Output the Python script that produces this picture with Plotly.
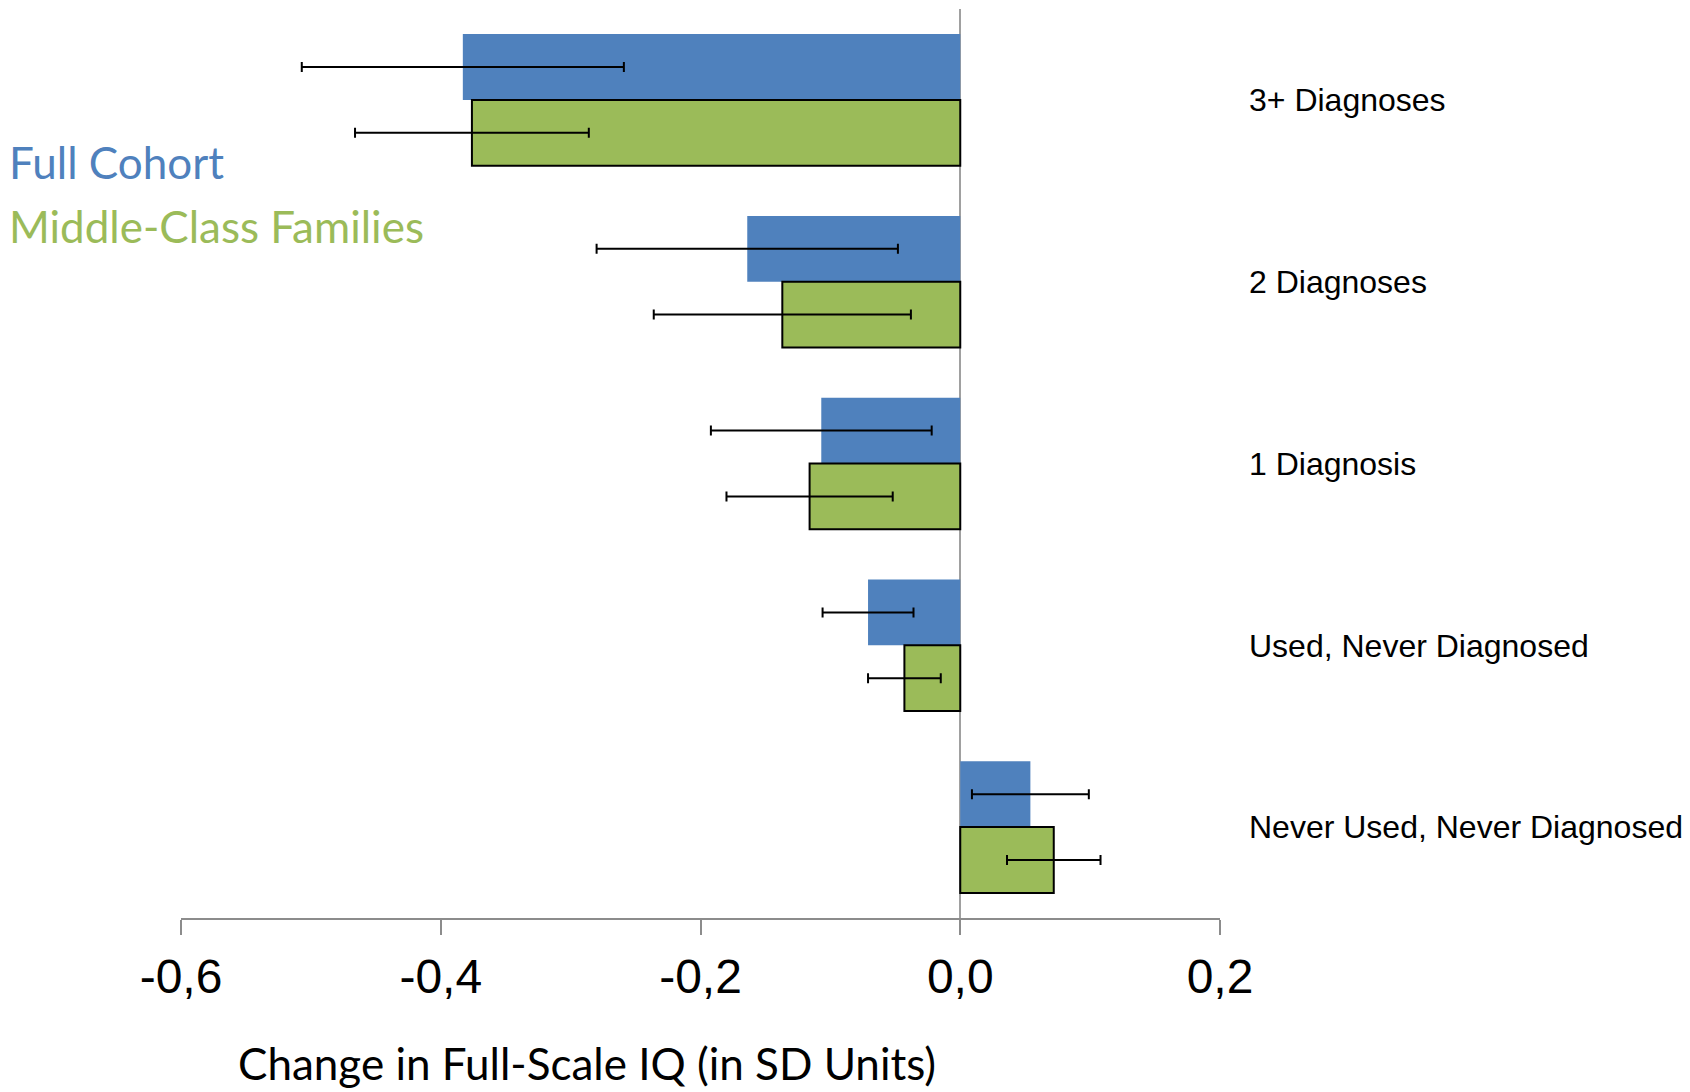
import plotly.graph_objects as go

# Cannabis-use groups, top to bottom
categories = [
    "3+ Diagnoses",
    "2 Diagnoses",
    "1 Diagnosis",
    "Used, Never Diagnosed",
    "Never Used, Never Diagnosed",
]

# Change in full-scale IQ (SD units) and error half-widths
full_cohort = [-0.383, -0.164, -0.107, -0.071, 0.054]
full_cohort_err = [0.124, 0.116, 0.085, 0.035, 0.045]
middle_class = [-0.376, -0.137, -0.116, -0.043, 0.072]
middle_class_err = [0.090, 0.099, 0.064, 0.028, 0.036]

x_ticks = [-0.6, -0.4, -0.2, 0.0, 0.2]
x_tick_labels = ["-0,6", "-0,4", "-0,2", "0,0", "0,2"]

BLUE = "#4F81BD"
GREEN = "#9BBB59"

fig = go.Figure()
fig.add_trace(go.Bar(
    name="Full Cohort",
    y=categories, x=full_cohort, orientation="h",
    marker=dict(color=BLUE, line=dict(width=0)),
    error_x=dict(type="data", array=full_cohort_err, color="black",
                 thickness=2, width=5),
))
fig.add_trace(go.Bar(
    name="Middle-Class Families",
    y=categories, x=middle_class, orientation="h",
    marker=dict(color=GREEN, line=dict(color="black", width=2)),
    error_x=dict(type="data", array=middle_class_err, color="black",
                 thickness=2, width=5),
))

fig.update_layout(
    width=1690, height=1092,
    margin=dict(l=181, r=470, t=9, b=174, autoexpand=False),
    paper_bgcolor="white", plot_bgcolor="white",
    barmode="group", bargap=0.276, bargroupgap=0,
    showlegend=False,
    xaxis=dict(
        range=[-0.6, 0.2], tickvals=x_ticks, ticktext=x_tick_labels,
        showgrid=False, automargin=False,
        showline=True, linecolor="#8C8C8C", linewidth=2,
        ticks="outside", ticklen=15, tickwidth=2, tickcolor="#8C8C8C",
        tickfont=dict(family="Liberation Sans, Arial", size=48, color="black"),
        zeroline=True, zerolinecolor="#A0A0A0", zerolinewidth=2,
    ),
    yaxis=dict(
        type="category", categoryorder="array", categoryarray=categories,
        autorange="reversed", side="right", automargin=False,
        showgrid=False, showline=False, zeroline=False, ticks="",
        ticklabelstandoff=28,
        tickfont=dict(family="Liberation Sans, Arial", size=32, color="black"),
    ),
)

# Series key and axis caption
fig.add_annotation(xref="paper", yref="paper", x=-0.1677, y=0.8317,
                   xanchor="left", yanchor="middle", showarrow=False,
                   text="Full Cohort",
                   font=dict(family="Lato", size=44, color=BLUE))
fig.add_annotation(xref="paper", yref="paper", x=-0.1677, y=0.7613,
                   xanchor="left", yanchor="middle", showarrow=False,
                   text="Middle-Class Families",
                   font=dict(family="Lato", size=44, color=GREEN))
fig.add_annotation(xref="paper", yref="paper", x=0.3908, y=-0.159,
                   xanchor="center", yanchor="middle", showarrow=False,
                   text="Change in Full-Scale IQ (in SD Units)",
                   font=dict(family="Lato", size=44, color="black"))

fig.write_html("out.html")
